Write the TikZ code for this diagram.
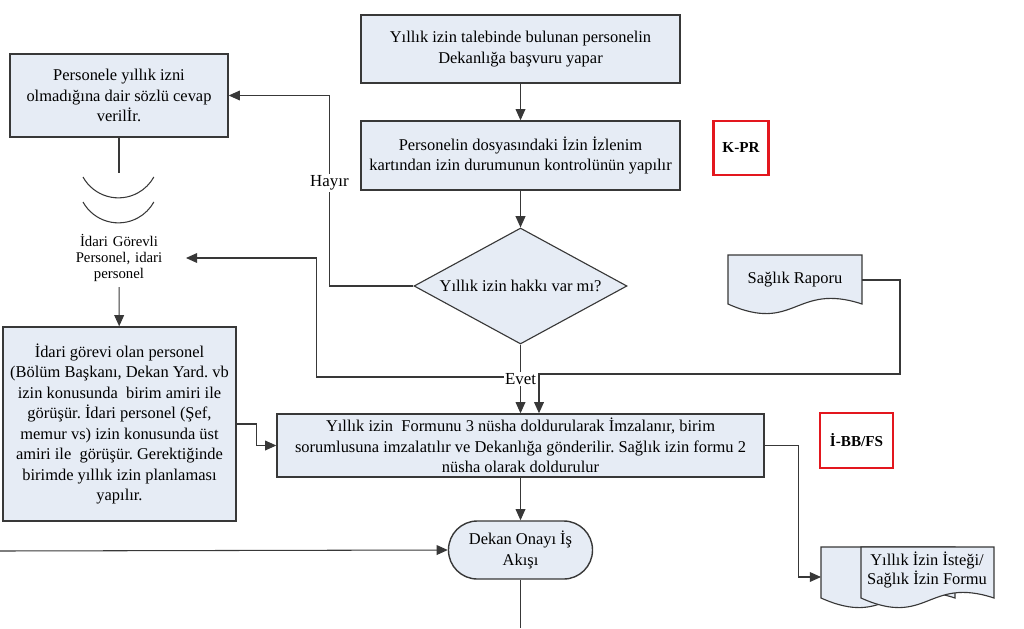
\documentclass[tikz,border=0pt]{standalone}
\usepackage{fontspec}
\setmainfont{Liberation Serif}
\frenchspacing
\usetikzlibrary{positioning,arrows.meta,shapes.geometric}
\definecolor{kutumavi}{HTML}{E6ECF5}
\definecolor{kenargri}{HTML}{383838}
\definecolor{kodkirmizi}{HTML}{E3171E}

% belge sekli: x0, ust y, x1, alt y
\newcommand{\belge}[4]{%
  \filldraw[belgecizgi] (#1,#2) -- (#3,#2) -- (#3,#4)
    .. controls ({(#1+#3)/2},{#4+0.55}) and ({(#1+#3)/2},{#4-0.75}) .. (#1,#4) -- cycle;}

\begin{document}
\begin{tikzpicture}[>={Triangle[length=8pt,width=7pt]}]
    \tikzset{
        kutu/.style={
            draw=kenargri,
            fill=kutumavi,
            line width=1pt,
            align=center,
            inner sep=2pt,
            font=\fontsize{11.7}{14.6}\selectfont
        },
        karar/.style={
            diamond,
            aspect=2,
            draw=kenargri,
            fill=kutumavi,
            line width=0.8pt,
            inner sep=0pt,
            minimum width=5.325cm,
            minimum height=2.9cm,
            font=\fontsize{11.7}{14.6}\selectfont
        },
        kodkutu/.style={
            draw=kodkirmizi,
            line width=2pt,
            font=\fontsize{10.8}{12}\selectfont\bfseries
        },
        ok/.style={
            ->,
            draw=kenargri,
            line width=0.75pt
        },
        cizgi/.style={
            draw=kenargri,
            line width=0.75pt
        },
        belgecizgi/.style={
            draw=kenargri,
            fill=kutumavi,
            line width=0.8pt
        },
        etiket/.style={
            fill=white,
            inner sep=1pt,
            font=\fontsize{12}{13}\selectfont
        },
        kucukyazi/.style={
            align=center,
            text width=3.1cm,
            font=\fontsize{10.5}{11.7}\selectfont
        }
    }
    \useasboundingbox (0,0) rectangle (25.6,-15.7);

    % Ana akis
    \node[kutu, minimum width=7.975cm, minimum height=1.7cm] (basvuru) at (13.0125,-1.225) {Yıllık izin talebinde bulunan personelin\\Dekanlığa başvuru yapar};
    \node[kutu, minimum width=7.975cm, minimum height=1.725cm] (kontrol) at (13.0125,-3.8875) {Personelin dosyasındaki İzin İzlenim\\kartından izin durumunun kontrolünün yapılır};
    \node[karar] (hak) at (13.0125,-7.15) {Yıllık izin hakkı var mı?};
    \node[kodkutu, minimum width=1.375cm, minimum height=1.35cm] (kpr) at (18.525,-3.7) {K-PR};
    \node[kutu, minimum width=12.175cm, minimum height=1.575cm] (form) at (13.0125,-11.1375) {Yıllık izin\ \ Formunu 3 nüsha doldurularak İmzalanır, birim\\sorumlusuna imzalatılır ve Dekanlığa gönderilir. Sağlık izin formu 2\\nüsha olarak doldurulur};
    \node[kodkutu, minimum width=1.825cm, minimum height=1.375cm] (ibb) at (21.4125,-11.0125) {İ-BB/FS};
    \node[kutu, rounded corners=0.72cm, minimum width=3.6cm, minimum height=1.45cm] (onay) at (13.0125,-13.75) {Dekan Onayı İş\\Akışı};

    % Sol taraf
    \node[kutu, minimum width=5.45cm, minimum height=2.075cm] (cevap) at (2.975,-2.3875) {Personele yıllık izni\\olmadığına dair sözlü cevap\\verilİr.};
    \node[kucukyazi] (gorevli) at (2.975,-6.45) {İdari Görevli\\Personel, idari\\personel};
    \node[kutu, minimum width=5.825cm, minimum height=4.85cm] (gorev) at (2.9875,-10.6) {İdari görevi olan personel\\(Bölüm Başkanı, Dekan Yard. vb\\izin konusunda\ \ birim amiri ile\\görüşür. İdari personel (Şef,\\memur vs) izin konusunda üst\\amiri ile\ \ görüşür. Gerektiğinde\\birimde yıllık izin planlaması\\yapılır.};

    % Belgeler
    \belge{18.2}{-6.375}{21.55}{-7.6}
    \node[minimum width=3.35cm, font=\fontsize{11.7}{13}\selectfont] (rapor) at (19.875,-7.0) {Sağlık Raporu};
    \belge{20.525}{-13.675}{23.875}{-14.95}
    \belge{21.525}{-13.675}{24.85}{-14.95}
    \node[align=center, font=\fontsize{11.7}{13.8}\selectfont] (istek) at (23.175,-14.25) {Yıllık İzin İsteği/\\Sağlık İzin Formu};

    % Baglanti noktalari
    \coordinate (evetkose) at (13.0125,-9.425);
    \coordinate (raporkose) at (22.5,-9.35);
    \coordinate (istekgiris) at (20.525,-14.425);
    \coordinate (solgiris) at (0,-13.775);
    \coordinate (altcikis) at (13.0125,-15.7);

    % Oklar
    \draw[ok] (basvuru) -- (kontrol);
    \draw[ok] (kontrol) -- (hak);
    \draw[ok] (hak.west) -- ++(-2.1,0) |- node[etiket, pos=0.27] (hayir) {Hayır} (cevap.east);
    \draw[cizgi] (cevap.south) -- ++(0,-0.875);
    \draw[cizgi] (2.075,-4.425) arc[start angle=209, end angle=331, radius=1.0125cm];
    \draw[cizgi] (2.075,-5.05) arc[start angle=209, end angle=331, radius=1.0125cm];
    \draw[ok] (gorevli) -- (gorev);
    \draw[ok] (gorev.east) -- ++(0.5,0) |- (form.west);
    \draw[ok] (hak.south) -- (form.north);
    \draw[ok] (evetkose) -- ++(-5.1,0) |- (gorevli.east);
    \draw[ok] (rapor.east) -| (raporkose) -| ([xshift=0.4625cm]form.north);
    \node[etiket] (evet) at (13.0125,-9.475) {Evet};
    \draw[ok] (form.east) -- ++(0.85,0) |- (istekgiris);
    \draw[ok] (form) -- (onay);
    \draw[ok] (solgiris) -- (onay.west);
    \draw[cizgi] (onay) -- (altcikis);
\end{tikzpicture}
\end{document}
